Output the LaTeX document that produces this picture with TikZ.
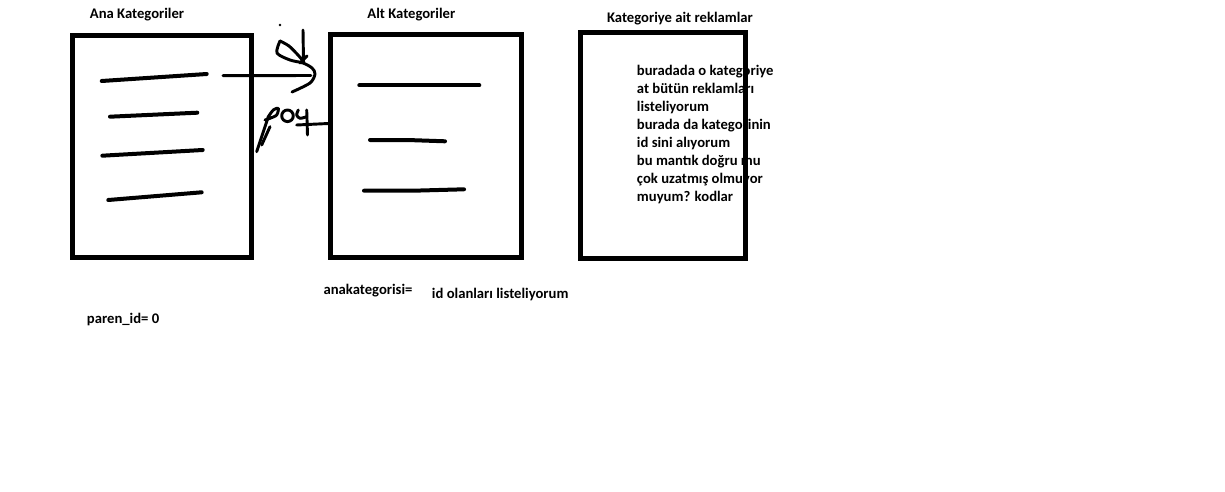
\documentclass[tikz,border=0pt]{standalone}
\usepackage{fontspec}
\setmainfont{Carlito}

\begin{document}
\begin{tikzpicture}[x=0.75pt,y=-0.75pt,
  font=\bfseries\fontsize{11}{13.4}\selectfont,
  frame/.style={draw,line width=3.75pt,inner sep=0pt},
  bar/.style={line width=3pt,line cap=round},
  pen/.style={line width=2.2pt,line cap=round,line join=round},
  lbl/.style={inner sep=0pt}]
\useasboundingbox (0,0) rectangle (1225,492);
% boxes
\node[frame,minimum width=179pt*0.75,minimum height=222pt*0.75] (ana) at (162.0,146.5) {};
\node[frame,minimum width=190.7pt*0.75,minimum height=222.5pt*0.75] (alt) at (426.3,146.2) {};
\node[lbl,align=left,anchor=west] (note) at (636.7,134.5) {buradada o kategoriye\\at bütün reklamları\\listeliyorum\\burada da kategorinin\\id sini alıyorum\\bu mantık doğru mu\\çok uzatmış olmuyor\\muyum? kodlar};
\node[frame,minimum width=164.7pt*0.75,minimum height=225.8pt*0.75] (rek) at (663.2,145.4) {};
% titles
\node[lbl] (anaT) at (137.0,15.0) {Ana Kategoriler};
\node[lbl] (altT) at (411.3,15.0) {Alt Kategoriler};
\node[lbl] (rekT) at (680.0,18.3) {Kategoriye ait reklamlar};
\node[lbl,anchor=west] (parent) at (86.7,319.3) {paren\_id= 0};
\node[lbl,anchor=west] (anak) at (323.3,290.7) {anakategorisi=};
\node[lbl,anchor=west] (olan) at (431.7,295.0) {id olanları listeliyorum};
% lines in the boxes
\draw[bar] (101.7,81.0) -- (206.7,74.0);
\draw[bar] (110.0,116.7) -- (197.3,112.7);
\draw[bar] (102.3,155.7) -- (202.7,150.0);
\draw[bar] (108.3,200.0) -- (201.7,192.3);
\draw[bar] (359.3,85.3) -- (479.3,85.3);
\draw[bar] (370.0,140.0) -- (407.3,140.0) -- (445.0,141.3);
\draw[bar] (364.0,190.7) -- (413.3,190.7) -- (464.0,189.3);
% hand drawn arrow
\coordinate (arrS) at (223.0,75.7);
\coordinate (arrE) at (311.0,75.5);
\draw[pen] (arrS) -- (arrE);
\draw[pen] (303.0,30.0) -- (303.5,61.0);
\draw[pen] plot[smooth] coordinates {(280.0,41.0) (289.0,46.0) (298.0,55.0) (304.0,62.0)};
\draw[pen] plot[smooth] coordinates {(280.0,41.0) (277.0,53.0) (290.0,60.0) (303.0,63.0) (312.0,68.0) (315.0,74.0) (310.0,83.0) (292.0,92.0)};
\draw[pen] (307.0,56.0) -- (300.0,63.0);
\fill (280.0,25.0) circle (1pt);
% pos
\draw[pen] (256.7,151.7) -- (268.3,116.7);
\draw[pen] plot[smooth] coordinates {(268.3,116.7) (273.3,110.0) (278.3,108.3) (276.7,115.0) (270.0,118.3) (265.0,120.0)};
\draw[pen] (261.7,145.0) -- (270.0,126.7);
\draw[pen] (287.5,115.8) ellipse (5.8 and 5.8);
\draw[pen] plot[smooth] coordinates {(298.3,110.0) (296.7,115.0) (300.0,118.3) (306.7,116.7)};
\draw[pen] (306.7,110.0) -- (307.5,135.0);
\draw[pen] (296.7,125.0) -- (alt.west |- 0,123.5);
\end{tikzpicture}
\end{document}
